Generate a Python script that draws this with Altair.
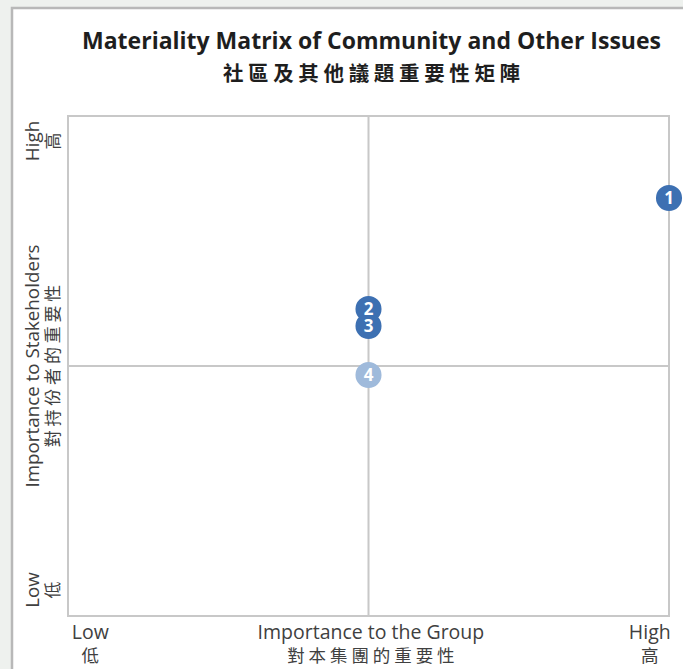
import altair as alt
import pandas as pd

# Issues plotted on the materiality matrix
issue_ids = ["1", "2", "3", "4"]
group_importance = [10.0, 5.0, 5.0, 5.0]
stakeholder_importance = [8.36, 6.14, 5.80, 4.82]
issue_colors = ["#3d70b2", "#3d70b2", "#3d70b2", "#9fbadb"]

# Axis annotation lines (English / Chinese) along the bottom and the left side
bottom_en = ["Low", "Importance to the Group", "High"]
bottom_zh = ["低", "對本集團的重要性", "高"]
bottom_pos = [0.37, 5.04, 9.68]

left_en = ["Low", "Importance to Stakeholders", "High"]
left_zh = ["低", "對持份者的重要性", "高"]
left_pos = [0.52, 5.0, 9.5]

title_en = "Materiality Matrix of Community and Other Issues"
title_zh = "社 區 及 其 他 議 題 重 要 性 矩 陣"

W, H = 601, 500
xs = alt.Scale(domain=[0, 10], nice=False, zero=False)
ys = alt.Scale(domain=[0, 10], nice=False, zero=False)
LABEL_GREY = "#404040"
LINE_GREY = "#c8c8c8"

issues = pd.DataFrame({
    "id": issue_ids,
    "x": group_importance,
    "y": stakeholder_importance,
    "color": issue_colors,
})

def spaced(s):
    return " ".join(list(s))

bottom = pd.DataFrame({
    "x": bottom_pos * 2,
    "y": [-0.34] * 3 + [-0.81] * 3,
    "text": bottom_en + [spaced(t) for t in bottom_zh],
    "lang": ["en"] * 3 + ["zh"] * 3,
})
left = pd.DataFrame({
    "x": [-0.58] * 3 + [-0.23] * 3,
    "y": left_pos * 2,
    "text": left_en + [spaced(t) for t in left_zh],
    "lang": ["en"] * 3 + ["zh"] * 3,
})
quad = pd.DataFrame({"v": [5.0], "lo": [0.0], "hi": [10.0]})

# white report panel behind the chart
panel = alt.Chart(quad).mark_rect(
    fill="white", stroke="#b8b8b8", strokeWidth=2.5
).encode(
    x=alt.value(-56), x2=alt.value(W + 40),
    y=alt.value(-108), y2=alt.value(H + 80),
)

# outer frame of the matrix
frame = alt.Chart(quad).mark_rect(
    fill=None, stroke=LINE_GREY, strokeWidth=2
).encode(
    x=alt.X("lo:Q", scale=xs, axis=None), x2="hi:Q",
    y=alt.Y("lo:Q", scale=ys, axis=None), y2="hi:Q",
)

vline = alt.Chart(quad).mark_rule(color=LINE_GREY, strokeWidth=2).encode(
    x=alt.X("v:Q", scale=xs, axis=None)
)
hline = alt.Chart(quad).mark_rule(color=LINE_GREY, strokeWidth=2).encode(
    y=alt.Y("v:Q", scale=ys, axis=None)
)

dots = alt.Chart(issues).mark_circle(size=680, opacity=1).encode(
    x=alt.X("x:Q", scale=xs, axis=None),
    y=alt.Y("y:Q", scale=ys, axis=None),
    color=alt.Color("color:N", scale=None),
)
dot_labels = alt.Chart(issues).mark_text(
    color="white", fontSize=17, fontWeight="bold", font="Open Sans", dy=1
).encode(
    x=alt.X("x:Q", scale=xs),
    y=alt.Y("y:Q", scale=ys),
    text="id:N",
)

def label_layer(df, lang, angle, font, size):
    return alt.Chart(df).transform_filter(
        alt.datum.lang == lang
    ).mark_text(
        angle=angle, font=font, fontSize=size, color=LABEL_GREY,
        align="center", baseline="middle"
    ).encode(
        x=alt.X("x:Q", scale=xs),
        y=alt.Y("y:Q", scale=ys),
        text="text:N",
    )

# two-line heading above the matrix
titles = pd.DataFrame({"t": [title_en]})
heading_en = alt.Chart(titles).mark_text(
    font="Open Sans", fontSize=23, fontWeight="bold", color="#1e1e1e",
    align="center", baseline="middle"
).encode(x=alt.value(W / 2 + 3), y=alt.value(-74), text=alt.value(title_en))
heading_zh = alt.Chart(titles).mark_text(
    font="Noto Sans CJK TC", fontSize=20.5, fontWeight="bold", color="#1e1e1e",
    align="center", baseline="middle"
).encode(x=alt.value(W / 2 + 3), y=alt.value(-41), text=alt.value(title_zh))

chart = alt.layer(
    panel,
    frame, vline, hline,
    dots, dot_labels,
    label_layer(bottom, "en", 0, "Open Sans", 19.5),
    label_layer(bottom, "zh", 0, "Noto Sans CJK TC", 17.5),
    label_layer(left, "en", 270, "Open Sans", 18.8),
    label_layer(left, "zh", 270, "Noto Sans CJK TC", 17),
    heading_en, heading_zh,
).properties(
    width=W, height=H,
    autosize=alt.AutoSizeParams(type="none"),
    padding={"left": 68, "top": 116, "right": 14, "bottom": 53},
    background="#eef1ee",
).configure_view(
    stroke=None
)

chart.save("out.html", embed_options={"renderer": "svg", "actions": False})
